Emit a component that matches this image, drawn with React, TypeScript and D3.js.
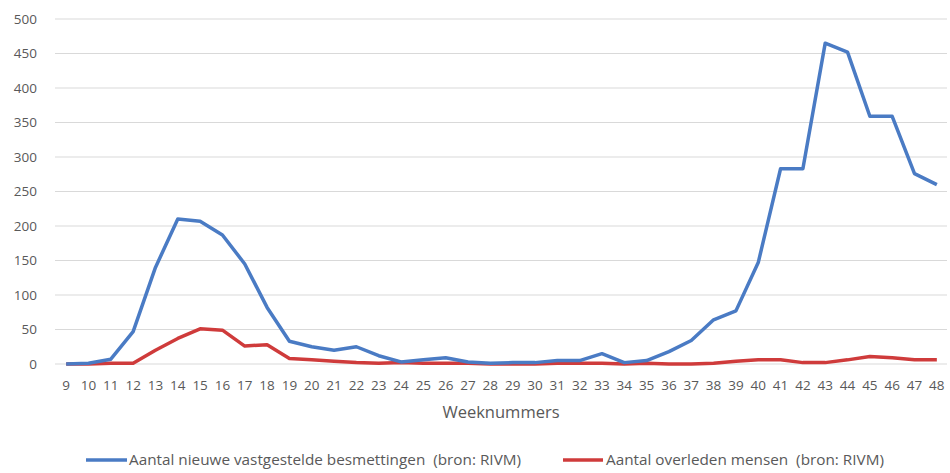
import React from "react";
import * as d3 from "d3";

const weeks: number[] = [9,10,11,12,13,14,15,16,17,18,19,20,21,22,23,24,25,26,27,28,29,30,31,32,33,34,35,36,37,38,39,40,41,42,43,44,45,46,47,48];
const besmettingen: number[] = [0,1,7,47,140,210,207,187,145,82,33,25,20,25,12,3,6,9,3,1,2,2,5,5,15,2,5,18,34,64,77,147,283,283,465,452,359,359,276,260];
const overleden: number[] = [0,0,1,1,20,37,51,49,26,28,8,6,4,2,1,2,1,1,1,0,0,0,1,1,1,0,1,0,0,1,4,6,6,2,2,6,11,9,6,6];
const yTicks: number[] = [0,50,100,150,200,250,300,350,400,450,500];
const seriesNames: string[] = [
  "Aantal nieuwe vastgestelde besmettingen\u00a0 (bron: RIVM)",
  "Aantal overleden mensen\u00a0 (bron: RIVM)",
];
const xTitle = "Weeknummers";

const W = 950, H = 473;
const m = { left: 55, right: 2, top: 19, bottom: 109 };
const font = "'Open Sans', 'Noto Sans', sans-serif";

export default function App() {
  const x = d3.scaleBand<number>().domain(weeks).range([m.left, W - m.right]).padding(0);
  const y = d3.scaleLinear().domain([0, 500]).range([H - m.bottom, m.top]);
  const cx = (w: number) => (x(w) as number) + x.bandwidth() / 2;
  const line = d3.line<number>().x((_, i) => cx(weeks[i])).y((d) => y(d));
  const colors = ["#4a7bc4", "#cf3b3b"];
  return (
    <svg width={W} height={H} style={{ position: "absolute", left: 0, top: 0, background: "#fff" }}>
      {yTicks.map((t) => (
        <g key={t}>
          <line x1={m.left} x2={W - 3} y1={y(t)} y2={y(t)} stroke="#d9d9d9" strokeWidth={1.2} />
          <text x={37} y={y(t)} dy="0.35em" textAnchor="end" fontFamily={font} fontSize={13.5} fill="#595959">{t}</text>
        </g>
      ))}
      {weeks.map((w) => (
        <text key={w} x={cx(w)} y={385} dy="0.35em" textAnchor="middle" fontFamily={font} fontSize={13.5} fill="#595959">{w}</text>
      ))}
      <text x={501} y={412} dy="0.35em" textAnchor="middle" fontFamily={font} fontSize={16.5} fill="#595959">{xTitle}</text>
      <path d={line(overleden) || ""} fill="none" stroke={colors[1]} strokeWidth={3.5} strokeLinejoin="round" />
      <path d={line(besmettingen) || ""} fill="none" stroke={colors[0]} strokeWidth={3.5} strokeLinejoin="round" />
      <g>
        <line x1={86} x2={127} y1={460} y2={460} stroke={colors[0]} strokeWidth={3.5} />
        <text x={129} y={460} dy="0.35em" fontFamily={font} fontSize={15.3} fill="#595959">{seriesNames[0]}</text>
        <line x1={563} x2={603} y1={460} y2={460} stroke={colors[1]} strokeWidth={3.5} />
        <text x={606} y={460} dy="0.35em" fontFamily={font} fontSize={15.3} fill="#595959">{seriesNames[1]}</text>
      </g>
    </svg>
  );
}
